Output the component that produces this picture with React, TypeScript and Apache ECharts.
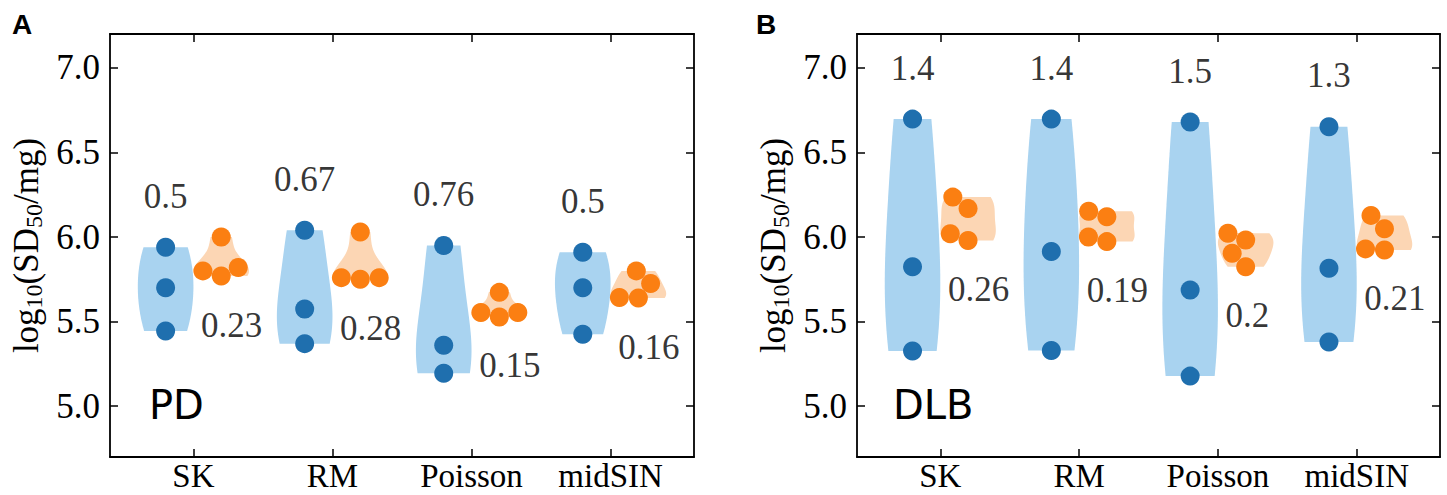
import React, { useEffect, useRef } from "react";
import * as echarts from "echarts";

// ---------- data ----------
const categories = ["SK", "RM", "Poisson", "midSIN"];
const categoryPositions = [0, 1, 2, 3];
const yTicks = [5.0, 5.5, 6.0, 6.5, 7.0];

// Panel A (PD)
const pdBlue = [
  [5.94, 5.7, 5.445],
  [6.04, 5.575, 5.37],
  [5.95, 5.36, 5.195],
  [5.91, 5.7, 5.425],
];
const pdOrange = [
  [6.0, 5.82, 5.8, 5.77],
  [6.03, 5.76, 5.75, 5.76],
  [5.673, 5.554, 5.528, 5.554],
  [5.8, 5.726, 5.643, 5.64],
];
const pdBlueLabels = ["0.5", "0.67", "0.76", "0.5"];
const pdOrangeLabels = ["0.23", "0.28", "0.15", "0.16"];

// Panel B (DLB)
const dlbBlue = [
  [6.697, 5.825, 5.326],
  [6.697, 5.914, 5.33],
  [6.68, 5.687, 5.178],
  [6.652, 5.815, 5.38],
];
const dlbOrange = [
  [6.236, 6.169, 6.02, 5.98],
  [6.153, 6.12, 6.0, 5.973],
  [6.023, 5.983, 5.904, 5.825],
  [6.128, 6.049, 5.93, 5.924],
];
const dlbBlueLabels = ["1.4", "1.4", "1.5", "1.3"];
const dlbOrangeLabels = ["0.26", "0.19", "0.2", "0.21"];

// ---------- styles ----------
const BLUE_DOT = "#1f6fae";
const ORANGE_DOT = "#fb7f12";
const BLUE_VIOLIN = "#a9d3f0";
const ORANGE_VIOLIN = "#fcd6b4";
const SERIF = "'Liberation Serif', 'Times New Roman', serif";
const DOT_D = 19;
const HALF_W = 0.2;
const OFFSET = 0.2;

function kdeProfile(values: number[], steps = 80) {
  const n = values.length;
  const mean = values.reduce((a, b) => a + b, 0) / n;
  const sd = Math.sqrt(values.reduce((a, b) => a + (b - mean) * (b - mean), 0) / (n - 1));
  const bw = sd * Math.pow(n, -0.2);
  const lo = Math.min(...values);
  const hi = Math.max(...values);
  const out: [number, number][] = [];
  let maxD = 0;
  for (let i = 0; i <= steps; i++) {
    const y = lo + ((hi - lo) * i) / steps;
    let d = 0;
    for (const v of values) d += Math.exp(-0.5 * ((y - v) / bw) ** 2);
    out.push([y, d]);
    if (d > maxD) maxD = d;
  }
  return out.map(([y, d]) => [y, d / maxD] as [number, number]);
}

function swarm(pixYs: number[]) {
  const placed: { x: number; y: number }[] = [];
  for (const y of pixYs) {
    const cands = [0];
    for (const q of placed) {
      const dy = y - q.y;
      if (Math.abs(dy) < DOT_D) {
        const dx = Math.sqrt(DOT_D * DOT_D - dy * dy);
        cands.push(q.x - dx, q.x + dx);
      }
    }
    cands.sort((a, b) => Math.abs(a) - Math.abs(b) || a - b);
    let chosen = cands[0];
    for (const c of cands) {
      const ok = placed.every((q) => (c - q.x) ** 2 + (y - q.y) ** 2 >= DOT_D * DOT_D - 0.01);
      if (ok) {
        chosen = c;
        break;
      }
    }
    placed.push({ x: chosen, y });
  }
  return placed;
}

function makeViolinSeries(blue: number[][], orange: number[][], axisIdx: number) {
  const data: number[][] = [];
  categoryPositions.forEach((c, i) => {
    data.push([i, 0]);
    data.push([i, 1]);
  });
  return {
    type: "custom",
    xAxisIndex: axisIdx * 2,
    yAxisIndex: axisIdx * 2,
    silent: true,
    data,
    renderItem: (params: any, api: any) => {
      const ci = api.value(0);
      const gi = api.value(1);
      const vals = gi === 0 ? blue[ci] : orange[ci];
      const cx = categoryPositions[ci] + (gi === 0 ? -OFFSET : OFFSET);
      const prof = kdeProfile(vals);
      const left = prof.map(([y, d]) => api.coord([cx - HALF_W * d, y]));
      const right = prof
        .slice()
        .reverse()
        .map(([y, d]) => api.coord([cx + HALF_W * d, y]));
      const poly = {
        type: "polygon",
        shape: { points: left.concat(right) },
        style: { fill: gi === 0 ? BLUE_VIOLIN : ORANGE_VIOLIN },
      };
      const sorted = vals.slice().sort((a, b) => a - b);
      const centerPx = api.coord([cx, sorted[0]])[0];
      const ys = sorted.map((v) => api.coord([cx, v])[1]);
      const placed = swarm(ys);
      const circles = placed.map((p) => ({
        type: "circle",
        shape: { cx: centerPx + p.x, cy: p.y, r: DOT_D / 2 },
        style: { fill: gi === 0 ? BLUE_DOT : ORANGE_DOT },
      }));
      return { type: "group", children: [poly, ...circles] };
    },
  };
}

function makeLabelSeries(blue: number[][], orange: number[][], topLabels: string[], bottomLabels: string[], axisIdx: number) {
  const top = categoryPositions.map((c, i) => ({
    name: topLabels[i],
    value: [c - OFFSET, Math.max(...blue[i]) + 0.3],
  }));
  const bottom = categoryPositions.map((c, i) => ({
    name: bottomLabels[i],
    value: [c + 0.055, Math.min(...orange[i]) - 0.29],
  }));
  const textStyle = { fontFamily: SERIF, fontSize: 35, color: "#000" };
  return [
    {
      type: "scatter",
      xAxisIndex: axisIdx * 2,
      yAxisIndex: axisIdx * 2,
      silent: true,
      symbolSize: 0,
      data: top,
      label: { show: true, position: "inside", formatter: "{b}", ...textStyle },
    },
    {
      type: "scatter",
      xAxisIndex: axisIdx * 2,
      yAxisIndex: axisIdx * 2,
      silent: true,
      symbolSize: 0,
      data: bottom,
      label: { show: true, position: "right", distance: 0, formatter: "{b}", ...textStyle },
    },
  ];
}

const lineStyle = { color: "#000", width: 1.8 };

function xAxes(gridIndex: number) {
  const base = {
    type: "value",
    gridIndex,
    min: -0.6,
    max: 3.6,
    splitLine: { show: false },
    axisLine: { show: true, onZero: false, lineStyle },
    axisTick: { show: true, inside: true, length: 8, lineStyle: { color: "#000", width: 1.5 }, customValues: categoryPositions },
  };
  return [
    {
      ...base,
      position: "bottom",
      axisLabel: {
        show: true,
        customValues: categoryPositions,
        formatter: (v: number) => categories[Math.round(v)],
        fontFamily: SERIF,
        fontSize: 33,
        lineHeight: 33,
        color: "#000",
        margin: 2,
      },
    },
    { ...base, position: "top", axisLabel: { show: false } },
  ];
}

function yAxes(gridIndex: number) {
  const base = {
    type: "value",
    gridIndex,
    min: 4.7,
    max: 7.2,
    splitLine: { show: false },
    axisLine: { show: true, onZero: false, lineStyle },
    axisTick: { show: true, inside: true, length: 8, lineStyle: { color: "#000", width: 1.5 }, customValues: yTicks },
  };
  return [
    {
      ...base,
      position: "left",
      name: "{m|log}{s|10}{m|(SD}{s|50}{m|/mg)}",
      nameLocation: "middle",
      nameRotate: 90,
      nameGap: 64,
      nameTextStyle: {
        rich: {
          m: { fontFamily: SERIF, fontSize: 35, color: "#000", lineHeight: 40 },
          s: { fontFamily: SERIF, fontSize: 24, color: "#000", lineHeight: 24, verticalAlign: "bottom" },
        },
      },
      axisLabel: {
        show: true,
        customValues: yTicks,
        formatter: (v: number) => v.toFixed(1),
        fontFamily: SERIF,
        fontSize: 35,
        color: "#000",
        margin: 10,
      },
    },
    { ...base, position: "right", axisLabel: { show: false } },
  ];
}

export default function App() {
  const ref = useRef<HTMLDivElement>(null);
  useEffect(() => {
    if (!ref.current) return;
    const chart = echarts.init(ref.current, undefined, { renderer: "svg" });
    const letterStyle = { fontFamily: "'Liberation Sans', Arial, sans-serif", fontWeight: "bold", fontSize: 28, color: "#000" };
    const innerStyle = { fontFamily: "'DejaVu Sans', sans-serif", fontWeight: "normal", fontSize: 40, color: "#000" };
    const option: any = {
      animation: false,
      backgroundColor: "#fff",
      title: [
        { text: "A", left: 12, top: 10, padding: 0, textStyle: letterStyle },
        { text: "B", left: 756, top: 10, padding: 0, textStyle: letterStyle },
        { text: "PD", left: 149, top: 385, padding: 0, textStyle: innerStyle },
        { text: "DLB", left: 893, top: 385, padding: 0, textStyle: innerStyle },
      ],
      grid: [
        { left: 110, top: 34, width: 584, height: 423, containLabel: false, outerBoundsMode: "none" },
        { left: 857, top: 34, width: 583, height: 423, containLabel: false, outerBoundsMode: "none" },
      ],
      xAxis: [...xAxes(0), ...xAxes(1)],
      yAxis: [...yAxes(0), ...yAxes(1)],
      series: [
        makeViolinSeries(pdBlue, pdOrange, 0),
        makeViolinSeries(dlbBlue, dlbOrange, 1),
        ...makeLabelSeries(pdBlue, pdOrange, pdBlueLabels, pdOrangeLabels, 0),
        ...makeLabelSeries(dlbBlue, dlbOrange, dlbBlueLabels, dlbOrangeLabels, 1),
      ],
    };
    chart.setOption(option);
    return () => chart.dispose();
  }, []);
  return (
    <div
      ref={ref}
      style={{ position: "fixed", left: 0, top: 0, width: 1447, height: 495, background: "#fff" }}
    />
  );
}
